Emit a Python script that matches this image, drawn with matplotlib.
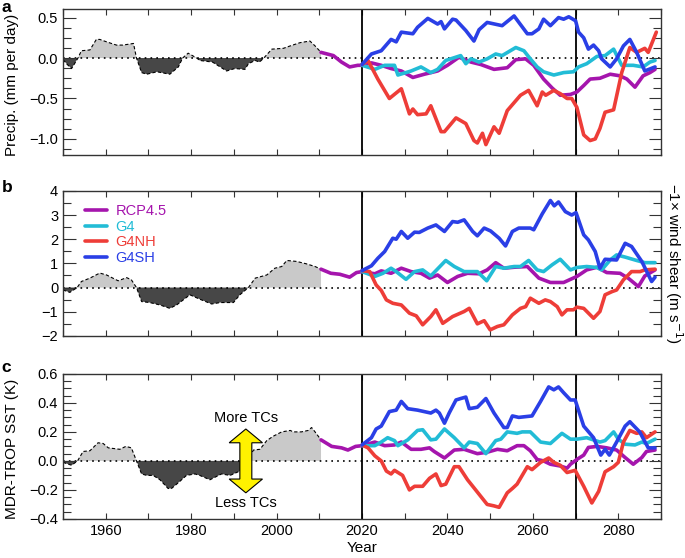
import numpy as np
import matplotlib
matplotlib.use('Agg')
import matplotlib.pyplot as plt
from matplotlib.patches import Polygon
from matplotlib.ticker import MultipleLocator

plt.rcParams['font.family'] = ['Liberation Sans', 'DejaVu Sans']
plt.rcParams['font.size'] = 10.5

# ---- panel a: precipitation ----
obs_yr_a = [1950, 1951, 1952, 1953.5, 1954.3, 1956.3, 1957.8, 1958.6, 1960.2, 1962.5, 1964, 1966.5, 1967.2,
            1968.4, 1969.6, 1972, 1975, 1977, 1978, 1979.3, 1981.3, 1982, 1985, 1988.3, 1990.2, 1992.6,
            1993.4, 1995, 1996, 1997, 1998.9, 2001.6, 2003.2, 2005.5, 2007.8, 2009, 2010.4]
obs_a = [-0.02, -0.08, -0.13, 0.0, 0.09, 0.1, 0.23, 0.23, 0.2, 0.16, 0.16, 0.18, 0.0,
         -0.18, -0.2, -0.17, -0.2, -0.11, 0.0, 0.06, 0.0, -0.03, -0.05, -0.16, -0.13, -0.14,
         -0.07, -0.03, -0.05, 0.0, 0.11, 0.12, 0.15, 0.19, 0.21, 0.15, 0.07]

rcp_yr_a = [2010.4, 2013.3, 2015.2, 2017.1, 2019, 2020, 2022.2, 2024.5, 2026.8, 2029.2, 2031.9, 2034.6,
            2037.7, 2040, 2042.7, 2045.5, 2047.8, 2050.9, 2054, 2056, 2058.3, 2060.2, 2062.5, 2064.5,
            2066.4, 2068.8, 2070.3, 2071.9, 2073.4, 2075.7, 2078.1, 2080.4, 2082, 2083.9, 2085.8,
            2087.4, 2088.6]
rcp_a = [0.07, 0.03, -0.05, -0.11, -0.09, -0.09, -0.06, -0.09, -0.13, -0.16, -0.24, -0.2,
         -0.16, -0.09, 0.01, -0.05, -0.08, -0.14, -0.12, -0.02, -0.01, -0.09, -0.26, -0.37,
         -0.46, -0.45, -0.42, -0.34, -0.26, -0.25, -0.2, -0.22, -0.26, -0.36, -0.22, -0.18, -0.14]

g4_yr_a = [2020, 2023, 2025.3, 2027.6, 2028.4, 2031.5, 2033.8, 2036.1, 2037.7, 2039.6, 2043.1, 2044.3,
           2045.5, 2047.4, 2049.3, 2051.3, 2052.8, 2056, 2057.9, 2059.4, 2061, 2062.5, 2064.9, 2067.2,
           2069.5, 2070.7, 2072.6, 2075, 2076.9, 2078.9, 2080.8, 2083.5, 2085.8, 2087.4, 2088.6]
g4_a = [-0.09, -0.14, -0.09, -0.09, -0.21, -0.16, -0.11, -0.18, -0.14, -0.03, 0.03, -0.07,
        -0.01, -0.05, -0.01, 0.05, 0.03, 0.13, 0.09, -0.01, -0.11, -0.17, -0.21, -0.18,
        -0.17, -0.11, -0.07, 0.02, 0.03, 0.11, -0.09, -0.09, -0.11, -0.05, -0.03]

nh_yr_a = [2020, 2021.4, 2023.7, 2026.4, 2029.2, 2031.1, 2031.9, 2033, 2035, 2036.1, 2038.5, 2039.3,
           2042, 2044.3, 2046.2, 2047, 2048.2, 2049, 2050.9, 2052.1, 2054, 2057.1, 2059, 2061, 2062.2,
           2063, 2064.9, 2066.4, 2068, 2069.1, 2070.3, 2071.9, 2073.4, 2074.6, 2075.7, 2076.9, 2078.9,
           2080.8, 2082.7, 2084.3, 2086.2, 2087, 2088.9]
nh_a = [-0.08, -0.03, -0.26, -0.5, -0.38, -0.69, -0.63, -0.7, -0.69, -0.59, -0.91, -0.91,
        -0.74, -0.81, -1.02, -1.05, -0.93, -1.07, -0.85, -0.93, -0.65, -0.46, -0.4, -0.59, -0.42,
        -0.46, -0.4, -0.44, -0.5, -0.5, -0.61, -0.95, -1.02, -1.0, -0.87, -0.67, -0.64,
        -0.18, 0.13, 0.07, 0.12, 0.07, 0.32]

sh_yr_a = [2020, 2022.2, 2024.5, 2026.8, 2028, 2029.2, 2031.9, 2033, 2035.4, 2037.7, 2038.5, 2039.3,
           2041.2, 2042, 2044.3, 2046.2, 2047.4, 2049.3, 2052.8, 2055.6, 2058.7, 2059.8, 2061.4,
           2062.5, 2064.1, 2066, 2067.2, 2068.4, 2070, 2070.7, 2071.9, 2073, 2074.2, 2075.4, 2076.1,
           2078.1, 2079.6, 2081.2, 2082.7, 2084.3, 2086.2, 2088.6]
sh_a = [-0.08, 0.05, 0.09, 0.23, 0.2, 0.32, 0.3, 0.38, 0.49, 0.42, 0.45, 0.36,
        0.48, 0.47, 0.34, 0.21, 0.35, 0.44, 0.4, 0.52, 0.3, 0.3, 0.36,
        0.48, 0.4, 0.5, 0.48, 0.51, 0.46, 0.32, 0.25, 0.11, 0.16, 0.09, -0.01,
        -0.11, -0.01, 0.15, 0.23, 0.07, -0.16, -0.11]

# ---- panel b: -1 x wind shear ----
obs_yr_b = [1950, 1951.6, 1953.3, 1954.3, 1956.3, 1958.6, 1960.2, 1962.9, 1964.9, 1966, 1967.2, 1968.4,
            1970.3, 1972.7, 1975, 1976.6, 1979.7, 1982, 1984.8, 1986.8, 1989.9, 1991.4, 1993.4, 1995,
            1997.7, 1999.6, 2001.2, 2002.4, 2004.7, 2007, 2009, 2010.4]
obs_b = [-0.1, -0.2, 0.0, 0.25, 0.39, 0.6, 0.52, 0.28, 0.41, 0.32, 0.0, -0.58,
         -0.62, -0.72, -0.86, -0.72, -0.3, -0.48, -0.68, -0.62, -0.62, -0.3, 0.0, 0.39,
         0.52, 0.8, 0.87, 1.12, 1.08, 0.98, 0.87, 0.76]

rcp_yr_b = [2010.4, 2012.7, 2014.8, 2017.1, 2018.7, 2020, 2023, 2024.5, 2026.8, 2029.2, 2031.5, 2033.8,
            2035.8, 2037.7, 2040, 2042.4, 2044.7, 2047.4, 2049.3, 2051.3, 2053.2, 2055.6, 2058.7,
            2061.4, 2064.1, 2067.2, 2070.3, 2072.6, 2075, 2077.3, 2080.4, 2082.3, 2084.7, 2086.2, 2088.6]
rcp_b = [0.76, 0.59, 0.55, 0.43, 0.62, 0.66, 0.57, 0.69, 0.59, 0.8, 0.66, 0.59,
         0.39, 0.52, 0.21, 0.46, 0.59, 0.57, 0.73, 1.03, 0.8, 0.84, 0.87,
         0.39, 0.21, 0.21, 0.46, 0.73, 0.84, 0.62, 0.59, 0.39, 0.04, 0.48, 0.73]

g4_yr_b = [2020, 2023, 2024.9, 2026.8, 2028, 2030.3, 2032.3, 2034.2, 2036.1, 2039.6, 2041.6, 2043.9,
           2047, 2049.2, 2051.3, 2053.2, 2055.6, 2057.1, 2059, 2061, 2062.5, 2064.5, 2066.4, 2068.8,
           2070.3, 2072.6, 2075, 2076.1, 2078.1, 2079.6, 2081.6, 2084.3, 2086.2, 2088.6]
g4_b = [0.66, 0.46, 0.59, 0.8, 0.66, 0.34, 0.66, 0.73, 0.48, 1.12, 0.87, 0.66,
        0.66, 0.28, 0.87, 0.8, 0.87, 0.87, 1.12, 0.73, 0.66, 0.94, 1.17, 0.73,
        0.83, 0.87, 0.83, 0.73, 1.14, 1.35, 1.26, 1.12, 1.03, 1.03]

nh_yr_b = [2020, 2021.8, 2023.3, 2024.5, 2025.7, 2027.2, 2029.2, 2031.1, 2032.7, 2034.2, 2036.1, 2037.3,
           2038.9, 2041.2, 2043.9, 2045.1, 2047, 2048.6, 2050, 2051.7, 2053.2, 2055.2, 2057.1, 2058.3,
           2059.4, 2061.4, 2062.9, 2064.1, 2065.7, 2066.8, 2068, 2069.5, 2070.3, 2071.9, 2074.2,
           2075.7, 2076.9, 2078.5, 2079.6, 2081.2, 2083.1, 2085.1, 2086.2, 2088.6]
nh_b = [0.7, 0.66, 0.11, -0.12, -0.51, -0.65, -0.72, -1.06, -1.17, -1.54, -1.2, -0.92,
        -1.48, -1.2, -0.99, -0.86, -1.5, -1.37, -1.75, -1.61, -1.54, -1.13, -0.86, -0.79,
        -0.44, -0.65, -0.51, -0.58, -0.79, -1.13, -0.92, -0.92, -0.81, -0.86, -1.27,
        -0.99, -0.3, -0.17, -0.1, 0.32, 0.66, 0.66, 0.73, 0.76]

sh_yr_b = [2020, 2022.2, 2023.7, 2025.3, 2027.2, 2028, 2029.2, 2030.7, 2032.3, 2033.4, 2035.4, 2037.3,
           2039.3, 2041.2, 2042.4, 2043.9, 2045.9, 2047, 2048.6, 2050.1, 2052.1, 2053.6, 2055.2,
           2056.7, 2059.4, 2060.2, 2062.2, 2064.1, 2065, 2066, 2067.6, 2069.1, 2070.1, 2071.9, 2073,
           2074.6, 2075.7, 2076.9, 2079.6, 2081.6, 2083.1, 2085.5, 2087.8, 2088.6]
sh_b = [0.7, 0.9, 1.21, 1.49, 2.04, 2.0, 2.32, 2.04, 2.29, 2.28, 2.46, 2.59,
        2.32, 2.73, 2.7, 2.8, 2.32, 2.14, 2.46, 2.34, 2.04, 1.72, 2.32,
        2.46, 2.46, 2.39, 3.05, 3.6, 3.38, 3.54, 3.14, 3.0, 3.1, 2.18, 1.97,
        1.49, 0.8, 1.17, 1.14, 1.83, 1.7, 1.08, 0.25, 0.43]

# ---- panel c: MDR-TROP SST ----
obs_yr_c = [1950, 1952, 1953.4, 1954.7, 1956.3, 1958.2, 1959.4, 1960.6, 1963.3, 1964.7, 1966, 1967.2,
            1968.4, 1969.6, 1971.1, 1972.7, 1974.6, 1975.4, 1977, 1978.9, 1980.9, 1982, 1984.4, 1987.1,
            1989.1, 1991.4, 1993, 1994.6, 1996.1, 1997.7, 1999.2, 2001.2, 2003.2, 2003.9, 2005.8,
            2007.4, 2008.2, 2009, 2010.4]
obs_c = [-0.01, -0.03, 0.0, 0.065, 0.07, 0.125, 0.12, 0.09, 0.08, 0.1, 0.09, 0.0,
         -0.09, -0.1, -0.1, -0.13, -0.19, -0.19, -0.15, -0.1, -0.09, -0.1, -0.13, -0.09,
         -0.1, -0.07, 0.0, 0.075, 0.08, 0.14, 0.17, 0.2, 0.21, 0.2, 0.2,
         0.21, 0.23, 0.2, 0.145]

rcp_yr_c = [2010.4, 2012.9, 2015.2, 2016.7, 2018.5, 2020, 2023, 2025.3, 2027.6, 2029.2, 2031.5, 2033.8,
            2035.8, 2036.9, 2039.3, 2041.6, 2043.9, 2047, 2049.3, 2051.7, 2054, 2056.3, 2057.9, 2059.4,
            2061, 2062.5, 2064.1, 2066.4, 2068, 2068.8, 2070.3, 2071.9, 2073, 2075, 2077.3, 2079.6,
            2081.6, 2083.5, 2085.5, 2086.6, 2088.6]
rcp_c = [0.145, 0.1, 0.09, 0.075, 0.1, 0.105, 0.13, 0.105, 0.11, 0.13, 0.08, 0.08,
         0.09, 0.065, 0.02, 0.075, 0.08, 0.05, 0.06, 0.08, 0.07, 0.105, 0.105, 0.07,
         0.01, 0.0, -0.023, -0.035, -0.05, -0.023, 0.01, 0.04, 0.093, 0.1, 0.09, 0.075,
         0.023, -0.023, 0.023, 0.065, 0.075]

g4_yr_c = [2020, 2023, 2024.5, 2026, 2027.6, 2028.4, 2030.7, 2033, 2034.2, 2036.1, 2037.3, 2039.3,
           2041.6, 2043.9, 2045.1, 2047, 2049, 2051.3, 2052.5, 2054, 2056.3, 2057.5, 2059.4, 2061.8,
           2064.1, 2066.8, 2068.8, 2070.3, 2072.6, 2075.7, 2076.9, 2078.9, 2080, 2081.6, 2083.9,
           2085.5, 2086.6, 2088.6]
g4_c = [0.105, 0.105, 0.13, 0.16, 0.14, 0.105, 0.145, 0.21, 0.215, 0.145, 0.15, 0.22,
        0.16, 0.09, 0.13, 0.12, 0.05, 0.14, 0.15, 0.2, 0.19, 0.2, 0.2, 0.13,
        0.12, 0.19, 0.15, 0.15, 0.16, 0.13, 0.14, 0.2, 0.15, 0.115, 0.11,
        0.13, 0.12, 0.15]

nh_yr_c = [2020, 2021.4, 2023, 2024.5, 2025.7, 2026.8, 2027.6, 2029.5, 2031.1, 2032.3, 2034.2, 2035.8,
           2037.3, 2038.5, 2039.6, 2041.6, 2042.7, 2044.7, 2046.6, 2049.3, 2050.9, 2052.1, 2054,
           2055.2, 2056.3, 2058.7, 2059.8, 2061.8, 2063.7, 2064.9, 2066.4, 2068, 2069.9, 2071.9,
           2073.8, 2075.4, 2076.9, 2078.9, 2080, 2081.2, 2082.7, 2084.3, 2085.5, 2086.6, 2088.6]
nh_c = [0.11, 0.09, 0.035, 0.0, -0.07, -0.09, -0.065, -0.1, -0.2, -0.175, -0.175, -0.12,
        -0.09, -0.17, -0.16, -0.04, -0.04, -0.13, -0.2, -0.3, -0.31, -0.32, -0.22,
        -0.19, -0.16, -0.04, -0.06, -0.01, 0.02, -0.01, -0.03, -0.08, -0.065, -0.175,
        -0.29, -0.21, -0.075, -0.04, -0.01, 0.13, 0.21, 0.19, 0.2, 0.16, 0.2]

sh_yr_c = [2020, 2022.2, 2023.3, 2024.5, 2026.4, 2028, 2029.2, 2030.7, 2033, 2036.1, 2037.3, 2038.1,
           2039.3, 2040.4, 2042, 2043.1, 2044.3, 2045.1, 2047, 2049, 2050.9, 2053.2, 2054, 2055.2,
           2056.7, 2059.8, 2061.8, 2063.7, 2064.9, 2066, 2067.2, 2068.8, 2069.9, 2071.9, 2074.2,
           2075.9, 2076.9, 2077.9, 2079.6, 2081.6, 2082.7, 2085, 2087, 2088.6]
sh_c = [0.11, 0.16, 0.22, 0.24, 0.34, 0.35, 0.41, 0.36, 0.35, 0.33, 0.35, 0.33,
        0.26, 0.33, 0.42, 0.43, 0.44, 0.36, 0.37, 0.43, 0.33, 0.23, 0.23, 0.31,
        0.3, 0.31, 0.41, 0.51, 0.49, 0.51, 0.47, 0.42, 0.42, 0.24, 0.16,
        0.04, 0.08, 0.04, 0.13, 0.24, 0.27, 0.2, 0.09, 0.09]

labels = ['RCP4.5', 'G4', 'G4NH', 'G4SH']
colors = ['#a515ad', '#22bcd6', '#ee3d38', '#2a3fe6']
x_ticks = [1960, 1980, 2000, 2020, 2040, 2060, 2080]
vlines = [2020, 2070]

fig = plt.figure(figsize=(6.85, 5.58), dpi=100)
left, width = 0.092, 0.873
boxes = [(0.722, 0.261), (0.398, 0.260), (0.070, 0.260)]

panels = [
    (obs_yr_a, obs_a, [(rcp_yr_a, rcp_a), (g4_yr_a, g4_a), (nh_yr_a, nh_a), (sh_yr_a, sh_a)],
     (-1.2, 0.6), [-1.0, -0.5, 0.0, 0.5], 0.125, '%.1f'),
    (obs_yr_b, obs_b, [(rcp_yr_b, rcp_b), (g4_yr_b, g4_b), (nh_yr_b, nh_b), (sh_yr_b, sh_b)],
     (-2, 4), [-2, -1, 0, 1, 2, 3, 4], 0.5, '%d'),
    (obs_yr_c, obs_c, [(rcp_yr_c, rcp_c), (g4_yr_c, g4_c), (nh_yr_c, nh_c), (sh_yr_c, sh_c)],
     (-0.4, 0.6), [-0.4, -0.2, 0.0, 0.2, 0.4, 0.6], 0.05, '%.1f'),
]

axes = []
for i, (oyr, oval, series, ylim, yt, ymin, fmt) in enumerate(panels):
    b, h = boxes[i]
    ax = fig.add_axes([left, b, width, h])
    axes.append(ax)
    oyr = np.array(oyr)
    oval = np.array(oval)
    ax.fill_between(oyr, 0, oval, where=oval >= 0, interpolate=True, color='#c9c9c9', lw=0)
    ax.fill_between(oyr, 0, oval, where=oval <= 0, interpolate=True, color='#474747', lw=0)
    ax.plot(oyr, oval, color='black', lw=0.8, ls=(0, (3, 2)))
    ax.axhline(0, color='black', lw=1.2, ls=(0, (1, 2.5)), zorder=1)
    for v in vlines:
        ax.axvline(v, color='black', lw=1.3, zorder=2)
    for (yr, val), lab, col in zip(series, labels, colors):
        ax.plot(yr, val, color=col, lw=2.6, label=lab, solid_capstyle='round',
                solid_joinstyle='round', zorder=3)
    ax.set_xlim(1950, 2090)
    ax.set_ylim(*ylim)
    ax.set_xticks(x_ticks)
    ax.xaxis.set_minor_locator(MultipleLocator(10))
    ax.set_yticks(yt)
    ax.yaxis.set_minor_locator(MultipleLocator(ymin))
    ax.set_yticklabels([(fmt % t).replace('-', '\u2212') for t in yt])
    ax.tick_params(which='both', direction='in', top=True, right=True, width=0.8, color='#333333')
    ax.tick_params(axis='y', which='major', length=9)
    ax.tick_params(axis='y', which='minor', length=6)
    ax.tick_params(axis='x', which='both', length=4)
    for s in ax.spines.values():
        s.set_linewidth(1.0)
        s.set_color('#333333')
    if i < 2:
        ax.tick_params(axis='x', labelbottom=False)

axes[0].set_ylabel('Precip. (mm per day)', fontsize=11)
axes[2].set_ylabel('MDR-TROP SST (K)', fontsize=11)
axes[0].yaxis.set_label_coords(-0.074, 0.48)
axes[2].yaxis.set_label_coords(-0.074, 0.48)
axes[2].set_xlabel('Year', fontsize=11, labelpad=2)

axb = axes[1]
axb.yaxis.set_label_position('right')
axb.set_ylabel('\u22121\u00d7 wind shear (m s$^{-1}$)', fontsize=11, rotation=270,
               ha='center', va='center')
axb.yaxis.set_label_coords(1.022, 0.5)
leg = axb.legend(loc='upper left', bbox_to_anchor=(0.015, 1.0), frameon=False, handlelength=1.5,
                 handletextpad=0.6, labelspacing=0.12, fontsize=10.5, labelcolor='linecolor')

# yellow double arrow + labels
axc = axes[2]
ax_x, tip, head_l, head_w, shaft_w = 1992.8, 0.22, 0.095, 3.9, 1.4
pts = [(ax_x, tip), (ax_x + head_w, tip - head_l), (ax_x + shaft_w, tip - head_l),
       (ax_x + shaft_w, -tip + head_l), (ax_x + head_w, -tip + head_l), (ax_x, -tip),
       (ax_x - head_w, -tip + head_l), (ax_x - shaft_w, -tip + head_l),
       (ax_x - shaft_w, tip - head_l), (ax_x - head_w, tip - head_l)]
axc.add_patch(Polygon(pts, closed=True, fc='#fff200', ec='black', lw=0.8, zorder=4))
axc.text(ax_x, 0.295, 'More TCs', ha='center', va='center', fontsize=10.5)
axc.text(ax_x, -0.29, 'Less TCs', ha='center', va='center', fontsize=10.5)

# panel letters
letter_tops = [1.0, 0.678, 0.355]
for lab, top in zip('abc', letter_tops):
    fig.text(0.002, top, lab, fontsize=12.5, fontweight='bold', va='top', ha='left')

fig.savefig('out.png', dpi=100)
